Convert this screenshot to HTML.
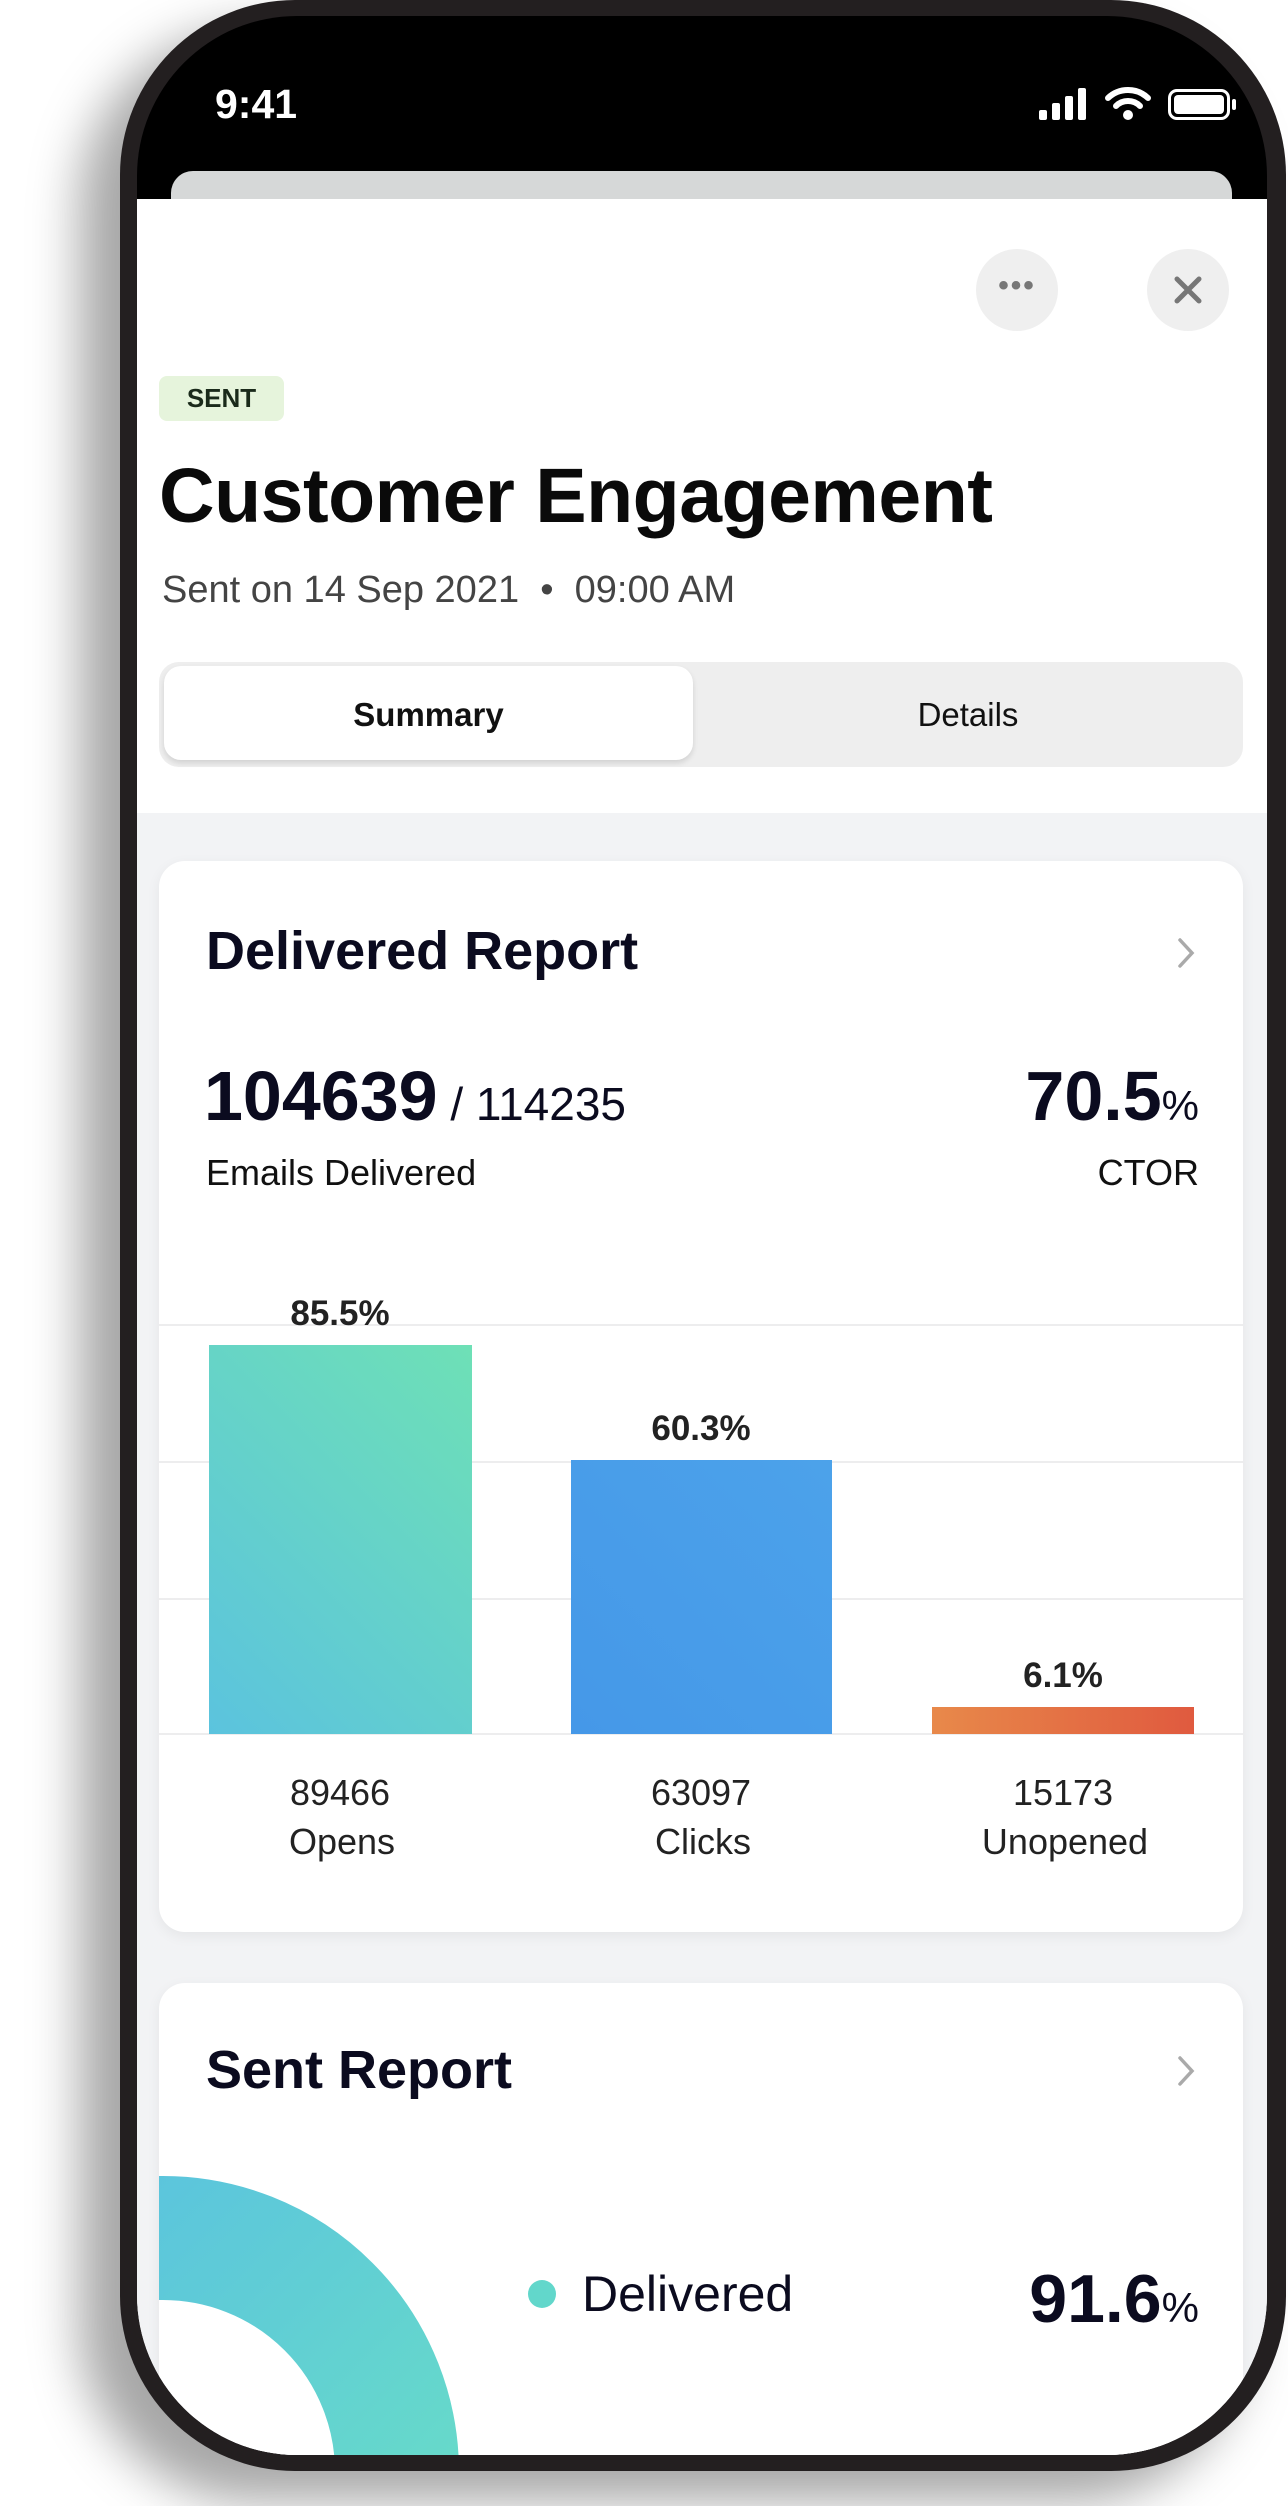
<!DOCTYPE html>
<html><head><meta charset="utf-8"><style>
*{margin:0;padding:0;box-sizing:border-box}
html,body{width:1288px;height:2506px;background:#fff;overflow:hidden;font-family:"Liberation Sans",sans-serif}
.abs{position:absolute}
#phone{position:absolute;left:120px;top:0;width:1166px;height:2471px;background:#231f20;border-radius:175px;box-shadow:-40px 30px 50px rgba(0,0,0,.35)}
#screen{position:absolute;left:137px;top:16px;width:1130px;height:2439px;border-radius:160px;overflow:hidden;background:#000}
.t{position:absolute;white-space:nowrap}
.card{position:absolute;background:#fff;border-radius:26px;box-shadow:0 4px 14px rgba(0,0,0,.06);overflow:hidden}
.grid{position:absolute;left:0;width:1084px;height:2px;background:#ededee}
.pct{position:absolute;width:300px;text-align:center;font-weight:bold;font-size:35px;color:#222;line-height:40px}
.lbl{position:absolute;width:300px;text-align:center;font-size:36px;color:#222;line-height:48px}
</style></head><body>
<div id="phone"></div>
<div id="screen">
  <div class="t" style="left:78px;top:64px;font-size:41px;font-weight:bold;color:#fff;line-height:48px">9:41</div>
  <div class="abs" style="left:902px;top:94px;width:8px;height:10px;background:#fff;border-radius:2px"></div>
  <div class="abs" style="left:915px;top:87px;width:8px;height:17px;background:#fff;border-radius:2px"></div>
  <div class="abs" style="left:928px;top:80px;width:8px;height:24px;background:#fff;border-radius:2px"></div>
  <div class="abs" style="left:941px;top:72px;width:8px;height:32px;background:#fff;border-radius:2px"></div>
  <svg class="abs" style="left:968px;top:68px" width="46" height="38" viewBox="0 0 46 38"><path d="M3 14 A29 29 0 0 1 43 14" stroke="#fff" stroke-width="6" fill="none" stroke-linecap="round"/><path d="M11 22 A17 17 0 0 1 35 22" stroke="#fff" stroke-width="6" fill="none" stroke-linecap="round"/><circle cx="23" cy="31" r="5" fill="#fff"/></svg>
  <div class="abs" style="left:1031px;top:73px;width:62px;height:31px;border:3px solid #fff;border-radius:9px;padding:3px"><div style="width:100%;height:100%;background:#fff;border-radius:4px"></div></div>
  <div class="abs" style="left:1095px;top:83px;width:4px;height:11px;background:#fff;border-radius:2px"></div>
  <div class="abs" style="left:34px;top:155px;width:1061px;height:60px;background:#d6d8d8;border-radius:22px 22px 0 0"></div>
  <div class="abs" style="left:0;top:183px;width:1130px;height:2256px;background:#fff"></div>
  <div class="abs" style="left:0;top:797px;width:1130px;height:1642px;background:#f2f3f5"></div>
  <div class="abs" style="left:839px;top:233px;width:82px;height:82px;border-radius:50%;background:#efefef"></div>
  <div class="t" style="left:839px;top:250px;width:82px;text-align:center;font-size:30px;color:#777;letter-spacing:2px;line-height:40px;font-weight:bold">•••</div>
  <div class="abs" style="left:1010px;top:233px;width:82px;height:82px;border-radius:50%;background:#efefef"></div>
  <svg class="abs" style="left:1010px;top:233px" width="82" height="82"><path d="M30 30 L52 52 M52 30 L30 52" stroke="#777" stroke-width="5" stroke-linecap="round"/></svg>
  <div class="abs" style="left:22px;top:360px;width:125px;height:45px;background:#e6f4dc;border-radius:8px"></div>
  <div class="t" style="left:22px;top:360px;width:125px;text-align:center;font-size:26px;font-weight:bold;color:#1a2a1a;line-height:45px">SENT</div>
  <div class="t" style="left:22px;top:436px;font-size:77px;font-weight:bold;color:#0a0a0a;line-height:88px;letter-spacing:-0.5px">Customer Engagement</div>
  <div class="t" style="left:25px;top:551px;font-size:38px;color:#444;line-height:46px">Sent on 14 Sep 2021 &nbsp;•&nbsp; 09:00 AM</div>
  <div class="abs" style="left:22px;top:646px;width:1084px;height:105px;background:#eeeeee;border-radius:20px"></div>
  <div class="abs" style="left:27px;top:650px;width:529px;height:94px;background:#fff;border-radius:17px;box-shadow:0 3px 6px rgba(0,0,0,.12)"></div>
  <div class="t" style="left:27px;top:679px;width:529px;text-align:center;font-size:33px;font-weight:bold;color:#111;line-height:40px">Summary</div>
  <div class="t" style="left:556px;top:679px;width:550px;text-align:center;font-size:33px;color:#111;line-height:40px">Details</div>

  <div class="card" style="left:22px;top:845px;width:1084px;height:1071px">
    <div class="t" style="left:47px;top:60px;font-size:54px;font-weight:bold;color:#0b0b1f;line-height:60px">Delivered Report</div>
    <svg class="abs" style="left:1014px;top:74px" width="26" height="36"><path d="M7 5 L19 18 L7 31" stroke="#aaa" stroke-width="3.5" fill="none" stroke-linecap="round"/></svg>
    <div class="t" style="left:45px;top:197px;line-height:76px;color:#0b0b1f"><span style="font-size:70px;font-weight:bold">104639</span><span style="font-size:46px"> / 114235</span></div>
    <div class="t" style="left:47px;top:290px;font-size:36px;color:#111;line-height:44px">Emails Delivered</div>
    <div class="t" style="right:44px;top:197px;line-height:76px;color:#0b0b1f;text-align:right"><span style="font-size:70px;font-weight:bold">70.5</span><span style="font-size:42px">%</span></div>
    <div class="t" style="right:44px;top:290px;font-size:36px;color:#111;line-height:44px">CTOR</div>
    <div class="grid" style="top:463px"></div>
    <div class="grid" style="top:600px"></div>
    <div class="grid" style="top:737px"></div>
    <div class="grid" style="top:872px"></div>
    <div class="abs" style="left:50px;top:484px;width:263px;height:389px;background:linear-gradient(45deg,#5bc3de,#6ee0b6)"></div>
    <div class="abs" style="left:412px;top:599px;width:261px;height:274px;background:linear-gradient(45deg,#4598e8,#4ca2ea)"></div>
    <div class="abs" style="left:773px;top:846px;width:262px;height:27px;background:linear-gradient(90deg,#e8894a,#e05a3f)"></div>
    <div class="pct" style="left:31px;top:433px">85.5%</div>
    <div class="pct" style="left:392px;top:548px">60.3%</div>
    <div class="pct" style="left:754px;top:795px">6.1%</div>
    <div class="lbl" style="left:31px;top:908px">89466</div>
    <div class="lbl" style="left:33px;top:957px">Opens</div>
    <div class="lbl" style="left:392px;top:908px">63097</div>
    <div class="lbl" style="left:394px;top:957px">Clicks</div>
    <div class="lbl" style="left:754px;top:908px">15173</div>
    <div class="lbl" style="left:756px;top:957px">Unopened</div>
  </div>

  <div class="card" style="left:22px;top:1967px;width:1084px;height:472px;border-radius:26px 26px 0 0">
    <div class="t" style="left:47px;top:57px;font-size:54px;font-weight:bold;color:#0b0b1f;line-height:60px">Sent Report</div>
    <svg class="abs" style="left:1014px;top:70px" width="26" height="36"><path d="M7 5 L19 18 L7 31" stroke="#aaa" stroke-width="3.5" fill="none" stroke-linecap="round"/></svg>
    <svg class="abs" style="left:0;top:0" width="600" height="472">
      <defs><linearGradient id="g" x1="0" y1="0" x2="1" y2="1"><stop offset="0" stop-color="#58bfe2"/><stop offset="1" stop-color="#6ae0c4"/></linearGradient></defs>
      <circle cx="4" cy="489" r="234" fill="none" stroke="url(#g)" stroke-width="124"/>
    </svg>
    <div class="abs" style="left:369px;top:297px;width:28px;height:28px;border-radius:50%;background:#62d7cb"></div>
    <div class="t" style="left:423px;top:281px;font-size:50px;color:#0b0b1f;line-height:60px">Delivered</div>
    <div class="t" style="right:44px;top:278px;line-height:76px;color:#0b0b1f"><span style="font-size:68px;font-weight:bold">91.6</span><span style="font-size:42px">%</span></div>
  </div>
</div>
</body></html>
